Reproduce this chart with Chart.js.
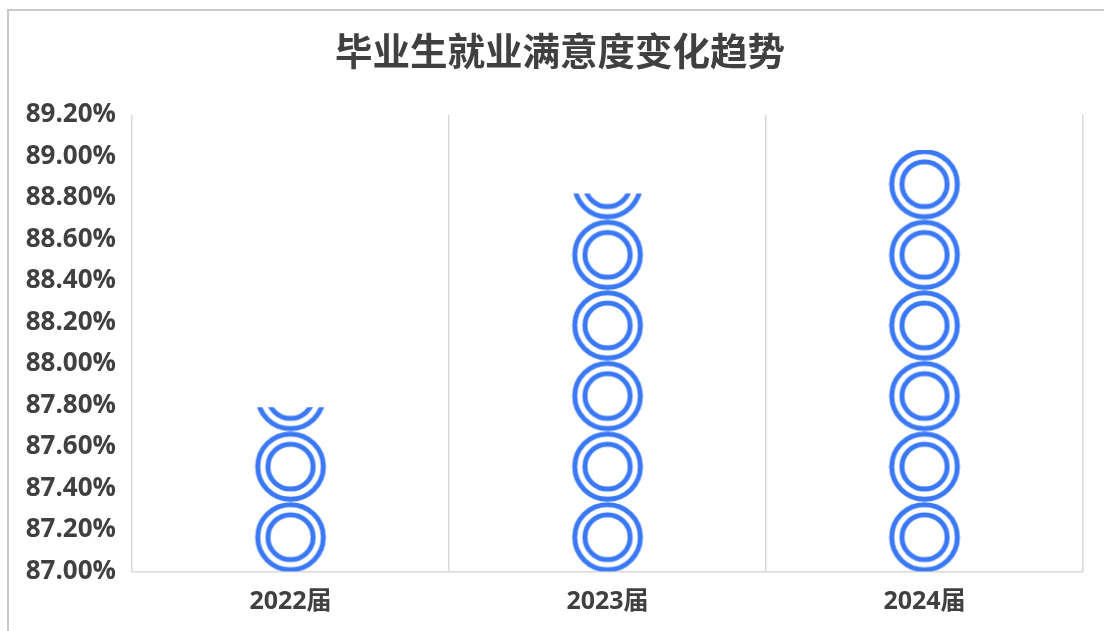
<!DOCTYPE html>
<html>
<head>
<meta charset="utf-8">
<title>毕业生就业满意度变化趋势</title>
<script src="https://cdn.jsdelivr.net/npm/chart.js@4"></script>
<style>
  html, body { margin: 0; padding: 0; background: #fff; overflow: hidden; }
  #wrap { position: relative; width: 1104px; height: 631px; }
  #frame { position: absolute; left: 7px; top: 9px; right: -10px; bottom: -10px; border: 2px solid #c9c9c9; }
  #chart { position: absolute; left: 0; top: 0; }
</style>
</head>
<body>
<div id="wrap">
  <div id="frame"></div>
  <canvas id="chart" width="1104" height="631"></canvas>
</div>
<script>
const chartTitle = "毕业生就业满意度变化趋势";
const categories = ["2022届", "2023届", "2024届"];
const satisfaction = [87.79, 88.82, 89.03];

const axisMin = 87;
const axisMax = 89.2;
const axisStep = 0.2;

const textColor = "#404040";
const gridColor = "#d9d9d9";
const ringColor = "#3a78f6";
const fontFamily = '"Open Sans", "Noto Sans CJK SC", sans-serif';

// one tile of the stacked symbol, repeated upwards from the axis base
const tileSize = 70.6;
const tileCanvas = document.createElement("canvas");
tileCanvas.width = 72;
tileCanvas.height = 71;

function ringPattern(ctx, cx, baseY) {
  const sy = tileSize / 71;
  const t = tileCanvas.getContext("2d");
  t.clearRect(0, 0, 72, 71);
  t.strokeStyle = ringColor;
  t.lineWidth = 5;
  [32.8, 22.6].forEach(r => {
    t.beginPath();
    t.arc(36, 35.5, r, 0, Math.PI * 2);
    t.stroke();
  });
  const pattern = ctx.createPattern(tileCanvas, "repeat");
  pattern.setTransform(new DOMMatrix([1, 0, 0, sy, cx - 36, baseY - tileSize + 1]));
  return pattern;
}

// the title sits a little right of the canvas centre in the original
const titleShift = {
  id: "titleShift",
  afterLayout(chart) {
    chart.titleBlock.left = 37;
  }
};

new Chart(document.getElementById("chart").getContext("2d"), {
  type: "bar",
  plugins: [titleShift],
  data: {
    labels: categories,
    datasets: [{
      label: "满意度",
      data: satisfaction,
      barThickness: 72,
      backgroundColor: (c) => {
        const { chart, dataIndex } = c;
        if (dataIndex === undefined || !chart.chartArea) return ringColor;
        const cx = chart.scales.x.getPixelForValue(dataIndex);
        const baseY = chart.scales.y.getPixelForValue(axisMin);
        return ringPattern(chart.ctx, cx, baseY);
      }
    }]
  },
  options: {
    responsive: false,
    animation: false,
    layout: { padding: { left: 0, right: 21, top: 0, bottom: 0 } },
    plugins: {
      legend: { display: false },
      tooltip: { enabled: false },
      title: {
        display: true,
        text: chartTitle,
        color: textColor,
        font: { family: fontFamily, size: 37.5, weight: "bold" },
        padding: { top: 32, bottom: 38 }
      }
    },
    scales: {
      x: {
        afterFit: (s) => { s.height = 59.5; },
        grid: { display: true, offset: true, drawTicks: false, color: gridColor, lineWidth: 1.5 },
        border: { display: true, color: gridColor, width: 1.5 },
        ticks: {
          color: textColor,
          padding: 15,
          font: { family: fontFamily, size: 25, weight: "bold" }
        }
      },
      y: {
        min: axisMin,
        max: axisMax,
        afterFit: (s) => { s.width = 132; },
        grid: { display: false, drawTicks: false },
        border: { display: false },
        ticks: {
          stepSize: axisStep,
          color: textColor,
          padding: 16,
          font: { family: fontFamily, size: 26, weight: "bold" },
          callback: (v) => Number(v).toFixed(2) + "%"
        }
      }
    }
  }
});
</script>
</body>
</html>
